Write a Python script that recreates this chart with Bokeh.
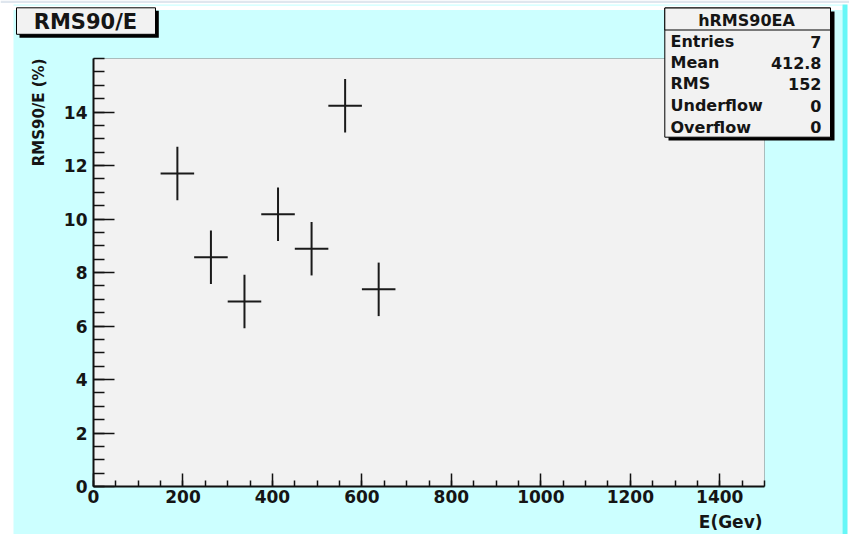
import math
from bokeh.plotting import figure
from bokeh.models import (Range1d, FixedTicker, LinearAxis, Label, BoxAnnotation,
                          ColumnDataSource)
from bokeh.embed import file_html
from bokeh.resources import INLINE

# ---------------- data ----------------
energy = [187.5, 262.5, 337.5, 412.5, 487.5, 562.5, 637.5]      # E (GeV), bin centres
rms90_over_e = [11.70, 8.57, 6.92, 10.18, 8.89, 14.23, 7.37]    # RMS90/E (%)
energy_err = [37.5, 37.5, 37.5, 37.5, 37.5, 37.5, 37.5]
rms_err = [1.0, 1.0, 1.0, 1.0, 1.0, 1.0, 1.0]

x_ticks = [0, 200, 400, 600, 800, 1000, 1200, 1400]
y_ticks = [0, 2, 4, 6, 8, 10, 12, 14]

title_text = "RMS90/E"
hist_name = "hRMS90EA"
stat_names = ["Entries", "Mean", "RMS", "Underflow", "Overflow"]
stat_values = ["7", "412.8", "152", "0", "0"]
x_label = "E(Gev)"
y_label = "RMS90/E (%)"

X0, X1 = 0, 1500
Y0, Y1 = 0, 16

# ---------------- geometry (page pixels -> data coordinates) ----------------
W, H = 849, 534
FL, FR, FT, FB = 93, 764, 58, 486   # frame edges on the page


def X(px):
    return X0 + (px - FL) * (X1 - X0) / (FR - FL)


def Y(py):
    return Y0 + (FB - py) * (Y1 - Y0) / (FB - FT)


FONT = "DejaVu Sans"
TXT = "#151515"
CYAN = "#ccffff"
PANEL = "#f2f2f2"

p = figure(width=W, height=H,
           x_range=Range1d(X(0), X(W)), y_range=Range1d(Y(H), Y(0)),
           output_backend="svg", toolbar_location=None,
           x_axis_location=None, y_axis_location=None,
           min_border=0, min_border_left=0, min_border_right=0,
           min_border_top=0, min_border_bottom=0,
           background_fill_color="white", border_fill_color="white",
           outline_line_color=None)
p.grid.visible = False


def box(l, t, r, b, fill, line=None, level="annotation", lw=1):
    p.add_layout(BoxAnnotation(left=X(l), right=X(r), top=Y(t), bottom=Y(b),
                               fill_color=fill, fill_alpha=1.0,
                               line_color=line if line else fill, line_width=lw,
                               line_alpha=1.0 if line else 0.0, level=level))


# page background (canvas decoration)
box(0, 0, W, 2.5, "#dfe6ee", level="underlay")
box(13, 4, 842, 5.3, CYAN, level="underlay")
box(13, 9.5, 842, H, CYAN, level="underlay")
box(842, 4, 847, H, "#66f7f7", level="underlay")

# plot frame
p.add_layout(BoxAnnotation(left=X0, right=X1, bottom=Y0, top=Y1,
                           fill_color=PANEL, fill_alpha=1.0,
                           line_color="#333333", line_width=1, level="underlay"))

# axes
x_minor = [v * 50 for v in range(0, 31)]
y_minor = [v * 0.5 for v in range(0, 33)]
xaxis = LinearAxis(fixed_location=Y0, bounds=(X0, X1),
                   ticker=FixedTicker(ticks=x_ticks, minor_ticks=x_minor))
yaxis = LinearAxis(fixed_location=X0, bounds=(Y0, Y1),
                   ticker=FixedTicker(ticks=y_ticks, minor_ticks=y_minor))
p.add_layout(xaxis, "below")
p.add_layout(yaxis, "left")

for ax, tin, min_in, standoff in ((xaxis, 13, 6, 3), (yaxis, 21, 11, 6)):
    ax.major_tick_in = tin
    ax.major_tick_out = 0
    ax.minor_tick_in = min_in
    ax.minor_tick_out = 0
    ax.axis_line_width = 2
    ax.axis_line_color = "#111111"
    ax.major_tick_line_width = 1.5
    ax.minor_tick_line_width = 1.5
    ax.major_tick_line_color = "#111111"
    ax.minor_tick_line_color = "#111111"
    ax.major_label_text_font = FONT
    ax.major_label_text_font_style = "bold"
    ax.major_label_text_font_size = "17px"
    ax.major_label_text_color = TXT
    ax.major_label_standoff = standoff

# data: error-bar crosses
src = ColumnDataSource(dict(
    x=energy, y=rms90_over_e,
    xl=[e - d for e, d in zip(energy, energy_err)],
    xr=[e + d for e, d in zip(energy, energy_err)],
    yl=[v - d for v, d in zip(rms90_over_e, rms_err)],
    yh=[v + d for v, d in zip(rms90_over_e, rms_err)],
))
p.segment(x0="xl", y0="y", x1="xr", y1="y", source=src, line_color="#1a1a1a", line_width=2)
p.segment(x0="x", y0="yl", x1="x", y1="yh", source=src, line_color="#1a1a1a", line_width=2)


def label(px, py, text, size, align="left", angle=0.0):
    p.add_layout(Label(x=X(px), y=Y(py), text=text, angle=angle,
                       text_align=align, text_baseline="middle",
                       text_font=FONT, text_font_style="bold",
                       text_font_size=size, text_color=TXT))


# axis titles
label(38, 58, y_label, "15px", "right", math.pi / 2)
label(762, 521, x_label, "17px", "right")

# title box
box(19, 10.3, 158.3, 37.3, "#000000")
box(16, 7.3, 155, 33.8, PANEL, "#000000")
label(85, 21, title_text, "21px", "center")

# stats box
box(668, 11, 834, 140, "#000000")
box(664.3, 7.5, 830, 136.7, PANEL, "#000000")
box(664.3, 7.5, 830, 29.5, PANEL, "#000000")
label(746, 19.5, hist_name, "16px", "center")
row_y = [41, 62, 83.3, 105, 126.7]
for name, val, yy in zip(stat_names, stat_values, row_y):
    label(670, yy, name, "16px", "left")
    label(821, yy, val, "16px", "right")

open("out.html", "w").write(file_html(p, INLINE))
